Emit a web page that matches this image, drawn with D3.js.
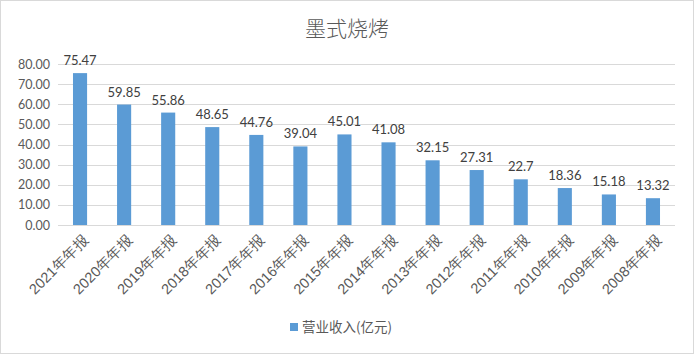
<!DOCTYPE html>
<html>
<head>
<meta charset="utf-8">
<script src="https://cdn.jsdelivr.net/npm/d3@7"></script>
<style>
  body { margin: 0; background: #fff; }
  svg { font-family: "Noto Sans CJK SC", "Noto Sans", sans-serif; }
</style>
</head>
<body>
<div id="chart"></div>
<script>
// chart data
const categories = ["2021年年报", "2020年年报", "2019年年报", "2018年年报", "2017年年报", "2016年年报", "2015年年报",
  "2014年年报", "2013年年报", "2012年年报", "2011年年报", "2010年年报", "2009年年报", "2008年年报"];
const revenue = [75.47, 59.85, 55.86, 48.65, 44.76, 39.04, 45.01, 41.08, 32.15, 27.31, 22.7, 18.36, 15.18, 13.32];
const yTicks = [0, 10, 20, 30, 40, 50, 60, 70, 80];
const title = "墨式烧烤";
const seriesName = "营业收入(亿元)";

const width = 694;
const height = 354;
const margin = { top: 64, right: 19, bottom: 129, left: 58 };

const svg = d3.select('#chart')
    .append('svg')
    .attr('width', width)
    .attr('height', height);

// outer border
svg.append('rect')
    .attr('x', 0.5).attr('y', 0.5)
    .attr('width', width - 1).attr('height', height - 1)
    .attr('fill', '#fff')
    .attr('stroke', '#d9d9d9');

const xScale = d3.scaleBand()
    .domain(categories)
    .range([margin.left, width - margin.right])
    .paddingInner(0.68)
    .paddingOuter(0.34);

const yScale = d3.scaleLinear()
    .domain([0, 80])
    .range([height - margin.bottom, margin.top]);

// gridlines
svg.append('g')
    .selectAll('line')
    .data(yTicks)
    .enter().append('line')
    .attr('x1', margin.left)
    .attr('x2', width - margin.right)
    .attr('y1', d => Math.round(yScale(d)) + 0.5)
    .attr('y2', d => Math.round(yScale(d)) + 0.5)
    .attr('stroke', '#d9d9d9');

// y axis labels
const yAxis = d3.axisLeft(yScale).tickValues(yTicks).tickFormat(d3.format('.2f')).tickSize(0).tickPadding(8);
const gy = svg.append('g')
    .attr('transform', `translate(${margin.left},0)`)
    .call(yAxis);
gy.select('.domain').remove();
gy.selectAll('text').attr('fill', '#595959').style('font-size', '12.5px').style('font-family', 'Lato, "Noto Sans", sans-serif');

// bars
svg.selectAll('.bar')
    .data(revenue)
    .enter().append('rect')
    .attr('class', 'bar')
    .attr('x', (d, i) => xScale(categories[i]))
    .attr('width', xScale.bandwidth())
    .attr('y', d => yScale(d))
    .attr('height', d => yScale(0) - yScale(d))
    .attr('fill', '#5b9bd5');

// data labels
svg.selectAll('.label')
    .data(revenue)
    .enter().append('text')
    .attr('x', (d, i) => xScale(categories[i]) + xScale.bandwidth() / 2)
    .attr('y', d => yScale(d) - 8)
    .attr('text-anchor', 'middle')
    .attr('fill', '#404040')
    .style('font-size', '13px')
    .style('font-family', 'Lato, "Noto Sans", sans-serif')
    .text(d => d);

// x axis labels (rotated)
const xAxis = d3.axisBottom(xScale).tickSize(0).tickPadding(0);
const gx = svg.append('g')
    .attr('transform', `translate(0,${yScale(0)})`)
    .call(xAxis);
gx.select('.domain').remove();
gx.selectAll('text')
    .attr('fill', '#595959')
    .style('font-size', '14.5px')
    .attr('text-anchor', 'end')
    .attr('dy', '0.35em')
    .attr('transform', 'translate(6,12) rotate(-45)');

// title
svg.append('text')
    .attr('x', width / 2)
    .attr('y', 36)
    .attr('text-anchor', 'middle')
    .attr('fill', '#595959')
    .style('font-size', '21px')
    .style('font-weight', '300')
    .text(title);

// legend
const legend = svg.append('g').attr('transform', 'translate(290,327)');
legend.append('rect')
    .attr('x', 0).attr('y', -4)
    .attr('width', 8).attr('height', 8)
    .attr('fill', '#5b9bd5');
legend.append('text')
    .attr('x', 12)
    .attr('y', 0)
    .attr('dy', '0.35em')
    .attr('fill', '#595959')
    .style('font-size', '13.5px')
    .text(seriesName);
</script>
</body>
</html>
